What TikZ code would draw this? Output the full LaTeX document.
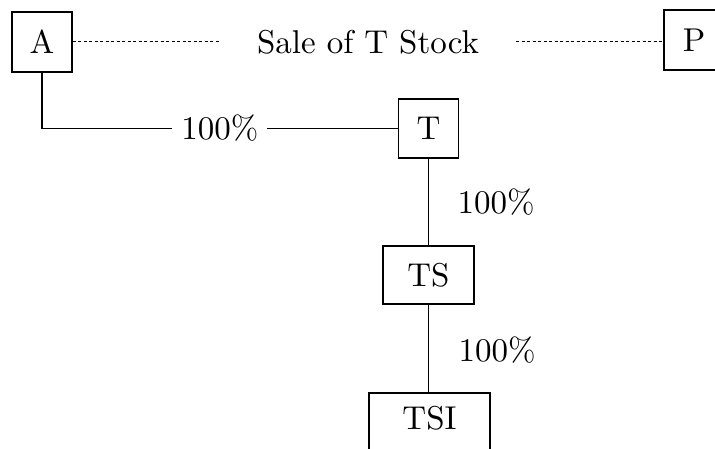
\documentclass[tikz,border=0pt]{standalone}
\usepackage{graphicx}
\newcommand\bigtext[1]{\scalebox{3.3}{#1}}
\begin{document}
\begin{tikzpicture}[x=1pt,y=-1pt,
  entity/.style={draw,line width=1.2pt,inner sep=0pt,anchor=center},
  link/.style={line width=1.2pt},
  sale/.style={line width=1pt,dash pattern=on 3pt off 2.5pt},
  pct/.style={inner sep=0pt}]
  \useasboundingbox (0,0) rectangle (715,449);
  \clip (0,0) rectangle (715,449);

  % entities
  \node[entity,minimum width=60pt,minimum height=60pt] (A) at (42,42) {\bigtext{A}};
  \node[entity,minimum width=60pt,minimum height=60pt] (P) at (694,40) {\bigtext{P}};
  \node[entity,minimum width=60pt,minimum height=59pt] (T) at (428.5,128.5) {\bigtext{T}};
  \node[entity,minimum width=91pt,minimum height=58pt] (TS) at (428.5,275) {\bigtext{TS}};
  \coordinate (TSItl) at (369,393);
  \coordinate (TSIbr) at (490,480);
  \draw[link] (TSItl) rectangle (TSIbr);
  \node (TSI) at (429.5,418) {\bigtext{TSI}};
  \coordinate (TSItop) at (428.5,393);

  % proposed sale between A and P
  \node[inner xsep=37pt,inner ysep=0pt] (deal) at (368,42) {\bigtext{Sale of T Stock}};
  \draw[sale] (A.east) -- (deal.west);
  \draw[sale] (deal.east) -- (P.west |- deal.east);

  % ownership chain
  \coordinate (corner) at (A.south |- T.west);
  \draw[link] (A.south) -- (corner) -- (T.west)
    node[pct,pos=0.5,fill=white,inner xsep=9pt] (p1) {\bigtext{100\%}};
  \draw[link] (T.south) -- (TS.north);
  \node[pct] (p2) at (496,202) {\bigtext{100\%}};
  \draw[link] (TS.south) -- (TSItop);
  \node[pct] (p3) at (497,350) {\bigtext{100\%}};
\end{tikzpicture}
\end{document}
